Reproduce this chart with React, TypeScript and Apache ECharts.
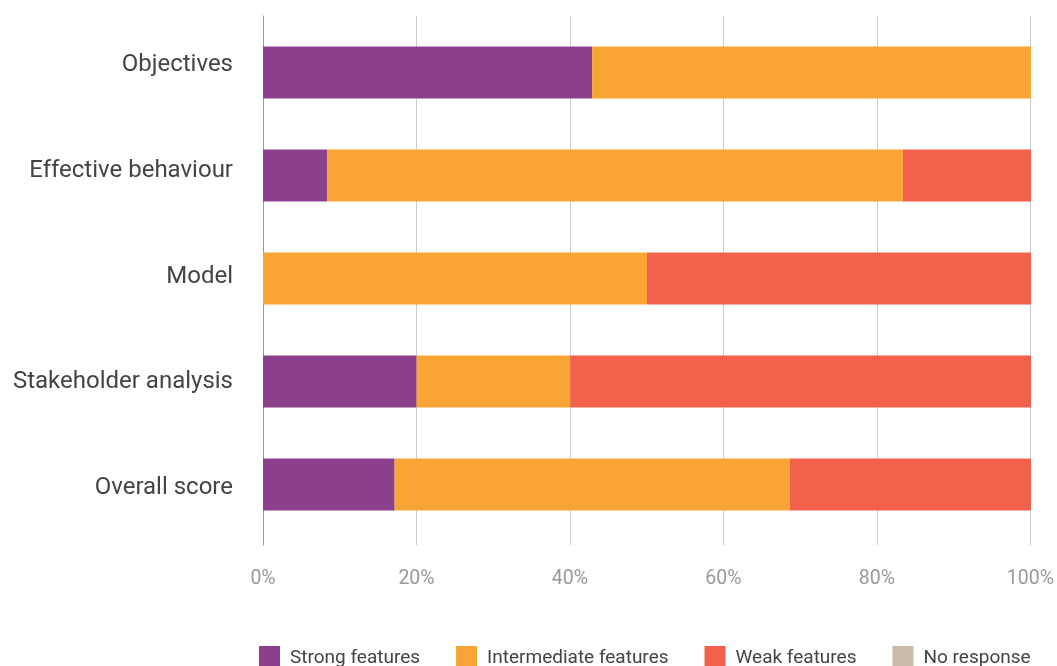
import React, { useEffect, useRef } from "react";
import * as echarts from "echarts";

const categories = ["Objectives", "Effective behaviour", "Model", "Stakeholder analysis", "Overall score"];
const seriesNames = ["Strong features", "Intermediate features", "Weak features", "No response"];
const strong = [42.86, 8.33, 0, 20, 17.14];
const intermediate = [57.14, 75, 50, 20, 51.43];
const weak = [0, 16.67, 50, 60, 31.43];
const noResponse = [0, 0, 0, 0, 0];
const colors = ["#8c3f8a", "#f8a535", "#f1614c", "#c8bba8"];
const xTicks = [0, 20, 40, 60, 80, 100];

export default function App() {
  const ref = useRef<HTMLDivElement>(null);
  useEffect(() => {
    if (!ref.current) return;
    const chart = echarts.init(ref.current, null, { renderer: "svg" });
    const values = [strong, intermediate, weak, noResponse];
    chart.setOption({
      animation: false,
      color: colors,
      legend: {
        bottom: -6,
        left: 254,
        itemWidth: 21,
        itemHeight: 21,
        itemGap: 36,
        icon: "rect",
        textStyle: { fontFamily: "Roboto", fontSize: 19, color: "#444", padding: [0, 0, 0, 5] },
        data: seriesNames,
      },
      grid: [
        { left: 263, right: 26, top: 16, bottom: 121 },
        { left: 263, right: 26, top: 21, bottom: 130 },
        { left: 263, right: 26, top: 10, bottom: 127 },
      ],
      xAxis: [
        {
          gridIndex: 0,
          type: "value",
          min: 0,
          max: 100,
          interval: 20,
          axisLine: { show: false },
          axisTick: { show: false },
          splitLine: { lineStyle: { color: "#cccccc", width: 1 } },
          axisLabel: {
            formatter: (v: number) => (xTicks.includes(v) ? v + "%" : ""),
            fontFamily: "Roboto",
            fontSize: 19.5,
            color: "#999",
            margin: 22,
          },
        },
        { gridIndex: 1, type: "value", min: 0, max: 100, show: false },
        { gridIndex: 2, type: "value", min: 0, max: 100, show: false },
      ],
      yAxis: [
        {
          gridIndex: 0,
          type: "category",
          data: categories,
          inverse: true,
          axisLine: { show: true, lineStyle: { color: "#999", width: 1 } },
          axisTick: { show: false },
          axisLabel: { show: false },
        },
        {
          gridIndex: 1,
          type: "category",
          data: categories,
          inverse: true,
          axisLine: { show: false },
          axisTick: { show: false },
          axisLabel: { show: false },
        },
        {
          gridIndex: 2,
          type: "category",
          data: categories,
          inverse: true,
          axisLine: { show: false },
          axisTick: { show: false },
          axisLabel: {
            fontFamily: "Roboto",
            fontSize: 24,
            color: "#444",
            margin: 30,
          },
        },
      ],
      series: seriesNames.map((name, i) => ({
        name,
        type: "bar",
        stack: "total",
        xAxisIndex: 1,
        yAxisIndex: 1,
        barWidth: 52,
        data: values[i],
        itemStyle: { color: colors[i] },
      })),
    });
    return () => chart.dispose();
  }, []);
  return <div ref={ref} style={{ position: "fixed", left: 0, top: 0, width: 1057, height: 666 }} />;
}
